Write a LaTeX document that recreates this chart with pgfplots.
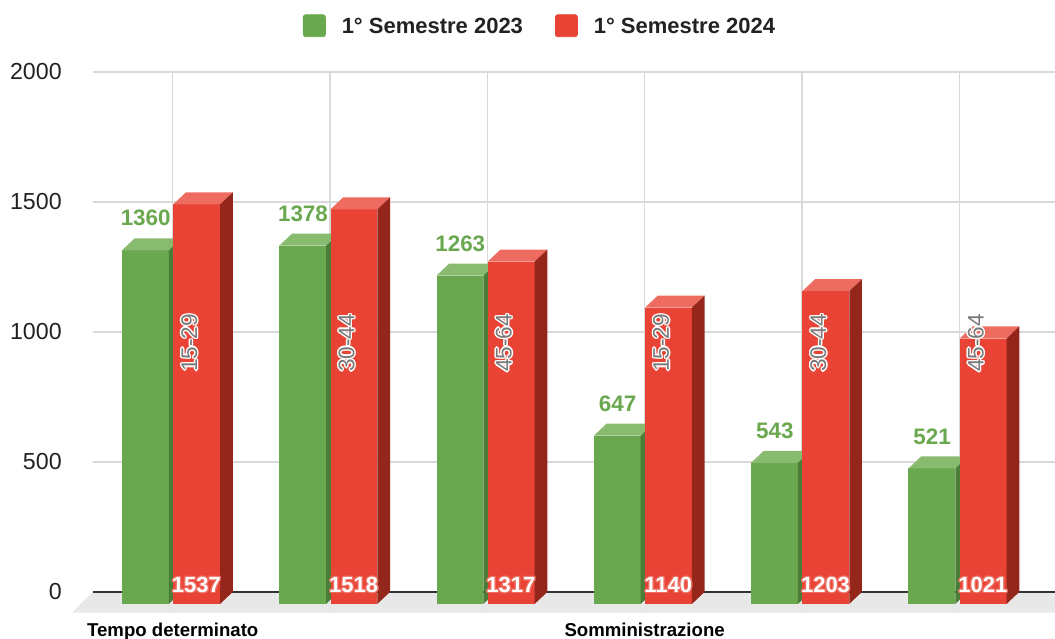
\documentclass[border=0pt]{standalone}
\usepackage{pgfplots}
\pgfplotsset{compat=1.18}
\usepackage{pgfplotstable}
\usepackage{fontspec}
\setmainfont{Liberation Sans}

\definecolor{grfront}{HTML}{6AA84F}
\definecolor{grtop}{HTML}{88BB6F}
\definecolor{grside}{HTML}{4A7D37}
\definecolor{rdfront}{HTML}{E84335}
\definecolor{rdtop}{HTML}{EE6B5F}
\definecolor{rdside}{HTML}{94261C}
\definecolor{gridc}{HTML}{D9D9D9}
\definecolor{floorc}{HTML}{E8E8E8}
\definecolor{labgray}{HTML}{7A7A7A}
\definecolor{txt}{HTML}{222222}

\pgfplotstableread{
x g r grp
0 1360 1537 15-29
1 1378 1518 30-44
2 1263 1317 45-64
3 647 1140 15-29
4 543 1203 30-44
5 521 1021 45-64
}\data

% outlined text: #1 outline colour, #2 text colour, #3 text
\newcommand\outl[3]{{%
 \rlap{\hspace*{-.7pt}\textcolor{#1}{#3}}%
 \rlap{\hspace*{.7pt}\textcolor{#1}{#3}}%
 \rlap{\raisebox{.7pt}{\textcolor{#1}{#3}}}%
 \rlap{\raisebox{-.7pt}{\textcolor{#1}{#3}}}%
 \rlap{\hspace*{-.5pt}\raisebox{.5pt}{\textcolor{#1}{#3}}}%
 \rlap{\hspace*{.5pt}\raisebox{.5pt}{\textcolor{#1}{#3}}}%
 \rlap{\hspace*{-.5pt}\raisebox{-.5pt}{\textcolor{#1}{#3}}}%
 \rlap{\hspace*{.5pt}\raisebox{-.5pt}{\textcolor{#1}{#3}}}%
 \textcolor{#2}{#3}}}

% 3D bar: #1 front centre x, #2 value, #3 front, #4 top, #5 side colour
\newcommand\threedbar[5]{%
 \pgfmathsetmacro\tbXa{#1-0.149}%
 \pgfmathsetmacro\tbXb{#1+0.149}%
 \pgfmathsetmacro\tbXc{#1+0.149+0.0807}%
 \pgfmathsetmacro\tbXd{#1-0.149+0.0807}%
 \pgfmathsetmacro\tbV{#2}%
 \pgfmathsetmacro\tbVf{#2-46.2}%
 \addplot[fill=#3,draw=none,forget plot] coordinates {(\tbXa,-46.2) (\tbXb,-46.2) (\tbXb,\tbVf) (\tbXa,\tbVf)};
 \addplot[fill=#4,draw=none,forget plot] coordinates {(\tbXa,\tbVf) (\tbXb,\tbVf) (\tbXc,\tbV) (\tbXd,\tbV)};
 \addplot[fill=#5,draw=none,forget plot] coordinates {(\tbXb,-46.2) (\tbXc,0) (\tbXc,\tbV) (\tbXb,\tbVf)};
}

\begin{document}
\begin{tikzpicture}
\begin{axis}[
  scale only axis, width=481.15pt, height=270.35pt,
  xmin=-0.509, xmax=5.609, ymin=-80, ymax=2000,
  clip=false,
  axis line style={draw=none},
  tick style={draw=none},
  xtick={0,1,2,3,4,5},
  xticklabels={Tempo determinato,,,Somministrazione,,},
  ytick={0,500,1000,1500,2000},
  xmajorgrids, ymajorgrids,
  grid style={gridc, line width=0.6pt},
  /pgf/number format/1000 sep={},
  /pgf/number format/assume math mode=true,
  yticklabel style={font=\fontsize{11.6}{14}\selectfont, text=txt, inner sep=0pt, xshift=-15.3pt},
  xticklabel style={font=\bfseries\fontsize{9.3}{11}\selectfont, text=black, anchor=base, inner sep=0pt, yshift=-11.65pt},
  legend columns=2,
  legend style={draw=none, fill=none, at={(0.4638,1.0856)}, anchor=center,
    font=\bfseries\fontsize{11}{13}\selectfont, text=txt,
    nodes={inner sep=0pt},
    /tikz/every odd column/.append style={column sep=8pt},
    /tikz/every even column/.append style={column sep=16pt}},
]
\addlegendimage{legend image code/.code={\fill[grfront, rounded corners=1.2pt] (0pt,-4.85pt) rectangle (11pt,6.15pt);}}
\addlegendentry{1° Semestre 2023}
\addlegendimage{legend image code/.code={\fill[rdfront, rounded corners=1.2pt] (0pt,-4.85pt) rectangle (11pt,6.15pt);}}
\addlegendentry{1° Semestre 2024}

% floor and base line
\addplot[fill=floorc, draw=none, forget plot] coordinates {(-0.509,0) (5.609,0) (5.609,-80) (-0.64,-80)};
\addplot[color=black!80, line width=0.75pt, forget plot] coordinates {(-0.509,0) (5.609,0)};

% bars
\pgfplotsinvokeforeach{0,...,5}{
  \pgfplotstablegetelem{#1}{g}\of\data
  \threedbar{#1-0.174}{\pgfplotsretval}{grfront}{grtop}{grside}
  \pgfplotstablegetelem{#1}{r}\of\data
  \threedbar{#1+0.152}{\pgfplotsretval}{rdfront}{rdtop}{rdside}
}

% green value labels
\addplot[draw=none, forget plot, nodes near coords={\pgfplotspointmeta}, point meta=explicit symbolic,
  every node near coord/.append style={anchor=base, inner sep=0pt, yshift=6.2pt, text=grfront, font=\bfseries\fontsize{11.2}{13}\selectfont}]
  table[x expr=\thisrow{x}-0.172, y=g, meta=g] {\data};

% rotated age-group labels
\addplot[draw=none, forget plot, nodes near coords={\outl{white}{labgray}{\pgfplotspointmeta}}, point meta=explicit symbolic,
  every node near coord/.append style={rotate=90, anchor=center, inner sep=0pt, font=\fontsize{11.3}{13}\selectfont}]
  table[x expr=\thisrow{x}+0.105, y expr=958, meta=grp] {\data};

% white value labels at bar bottom
\addplot[draw=none, forget plot, nodes near coords={\outl{rdtop}{white}{\pgfplotspointmeta}}, point meta=explicit symbolic,
  every node near coord/.append style={anchor=center, inner sep=0pt, font=\bfseries\fontsize{11}{13}\selectfont}]
  table[x expr=\thisrow{x}+0.150, y expr=27, meta=r] {\data};
\end{axis}
\pgfresetboundingbox
\useasboundingbox ([xshift=-46.35pt,yshift=-12.65pt]current axis.south west) rectangle ([yshift=36pt]current axis.north east);
\end{tikzpicture}
\end{document}
